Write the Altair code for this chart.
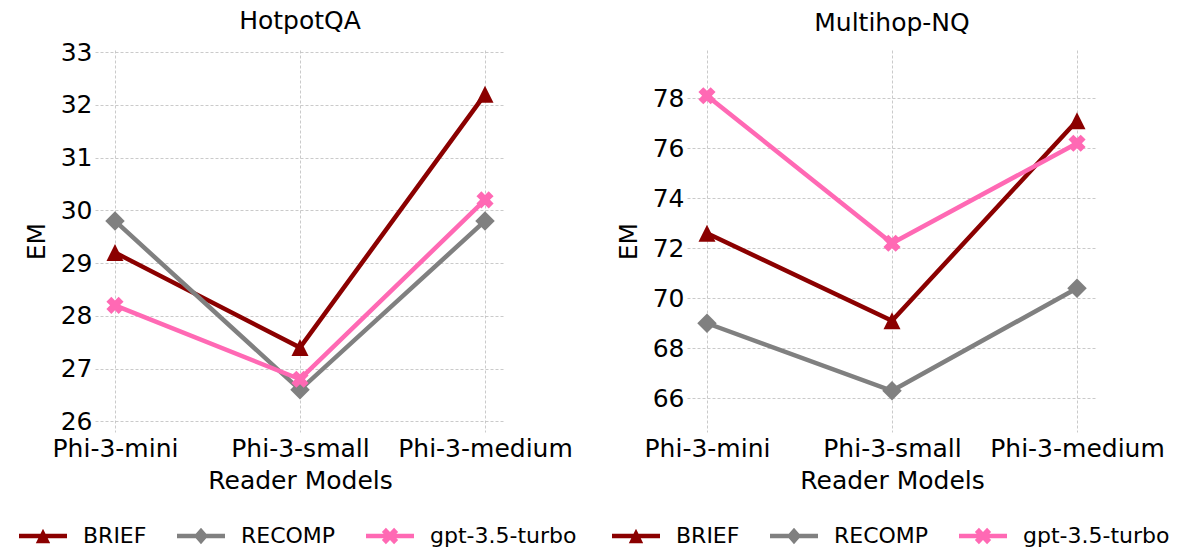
import math
import altair as alt
import pandas as pd

# ---------------- data ----------------
models = ["Phi-3-mini", "Phi-3-small", "Phi-3-medium"]
methods = ["BRIEF", "RECOMP", "gpt-3.5-turbo"]

hotpot_brief = [29.2, 27.4, 32.2]
hotpot_recomp = [29.8, 26.6, 29.8]
hotpot_gpt = [28.2, 26.8, 30.2]

nq_brief = [72.6, 69.1, 77.1]
nq_recomp = [69.0, 66.3, 70.4]
nq_gpt = [78.1, 72.2, 76.2]

hotpot_ticks = [26, 27, 28, 29, 30, 31, 32, 33]
nq_ticks = [66, 68, 70, 72, 74, 76, 78]

# ---------------- style ----------------
FONT = "DejaVu Sans"
colors = ["#8B0000", "#808080", "#FF69B4"]


def x_polygon(L, a):
    pts = [(a, L), (a, a), (L, a), (L, -a), (a, -a), (a, -L), (-a, -L), (-a, -a),
           (-L, -a), (-L, a), (-a, a), (-a, L)]
    pts = pts[::-1]
    r = 1 / math.sqrt(2)
    rot = [((x - y) * r, (x + y) * r) for x, y in pts]
    return "M" + "L".join(f"{x:.3f},{y:.3f}" for x, y in rot) + "Z"


line_bar = "M-1,-0.09H1V0.09H-1Z "
legend_paths = [
    line_bar + "M0,-0.3L0.3,0.3L-0.3,0.3Z",
    line_bar + "M0,-0.34L0.3,0L0,0.34L-0.3,0Z",
    line_bar + x_polygon(0.36, 0.12),
]
plot_markers = [
    dict(shape="M0,-1L1,1L-1,1Z", size=289),
    dict(shape="diamond", size=380),
    dict(shape="cross", size=300, angle=45),
]


def make_df(series):
    rows = []
    for m, vals in zip(methods, series):
        for mod, v in zip(models, vals):
            rows.append({"model": mod, "method": m, "em": v})
    return pd.DataFrame(rows)


def panel(series, title, domain, ticks, legend_x, title_offset):
    df = make_df(series)
    base = alt.Chart(df)
    x = alt.X("model:N", sort=models,
              scale=alt.Scale(type="point", padding=0.108),
              axis=alt.Axis(title="Reader Models", labelAngle=0, domain=False, ticks=False,
                            labelPadding=4, titlePadding=7,
                            grid=True, gridDash=[3, 2], gridColor="#bcbcbc", gridWidth=0.8))
    y = alt.Y("em:Q",
              scale=alt.Scale(domain=domain, nice=False, zero=False),
              axis=alt.Axis(title="EM", values=ticks, domain=False, ticks=False,
                            labelPadding=3, titlePadding=11,
                            grid=True, gridDash=[3, 2], gridColor="#bcbcbc", gridWidth=0.8))
    layers = []
    for m, c, mk in zip(methods, colors, plot_markers):
        sub = base.transform_filter(alt.datum.method == m)
        layers.append(sub.mark_line(color=c, strokeWidth=4.5).encode(x=x, y=y))
        layers.append(sub.mark_point(filled=True, opacity=1, color=c, strokeWidth=0, **mk).encode(x=x, y=y))
    legend = alt.Legend(title=None, orient="none", legendX=legend_x, legendY=462,
                        direction="horizontal", labelFontSize=22, labelFont=FONT,
                        labelColor="black", symbolSize=2304, symbolStrokeWidth=0,
                        symbolOpacity=1, labelOffset=16, columnPadding=30, padding=0)
    leg = base.transform_filter("false").mark_point(filled=True, opacity=1).encode(
        x=x, y=y,
        color=alt.Color("method:N", scale=alt.Scale(domain=methods, range=colors), legend=legend),
        shape=alt.Shape("method:N", scale=alt.Scale(domain=methods, range=legend_paths), legend=legend),
    )
    layers.append(leg)
    return alt.layer(*layers).properties(
        width=410, height=382,
        title=alt.TitleParams(title, fontSize=25, fontWeight="normal", font=FONT,
                              color="black", offset=title_offset, frame="group"),
    )


left = panel([hotpot_brief, hotpot_recomp, hotpot_gpt], "HotpotQA", [25.8, 33.04], hotpot_ticks, -76, 6)
right = panel([nq_brief, nq_recomp, nq_gpt], "Multihop-NQ", [64.65, 79.93], nq_ticks, -75, 14)

chart = alt.hconcat(left, right, spacing=35).resolve_scale(color="independent", shape="independent").properties(
    padding={"left": 19, "top": 9, "right": 5, "bottom": 5},
    background="white",
).configure_view(stroke=None).configure_axis(
    labelFont=FONT, titleFont=FONT, labelFontSize=25, titleFontSize=25,
    titleFontWeight="normal", labelColor="black", titleColor="black",
)

chart.save("out.html", embed_options={"renderer": "svg", "actions": False})
